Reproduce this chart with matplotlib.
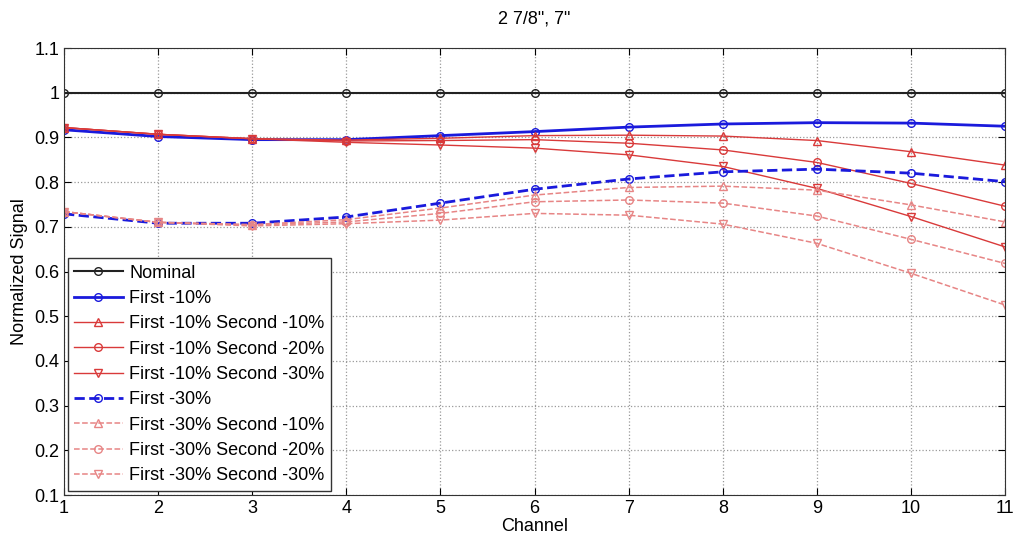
#!/usr/bin/env python3
# -*- coding: utf-8 -*-

import numpy as np
import matplotlib
matplotlib.use("Agg")
import matplotlib.pyplot as plt

plt.rcParams['font.family'] = ['Liberation Sans', 'DejaVu Sans']
plt.rcParams['font.size'] = 13

# チャンネル番号
channel = np.arange(1, 12)

# 正規化信号
nominal  = [1.0, 1.0, 1.0, 1.0, 1.0, 1.0, 1.0, 1.0, 1.0, 1.0, 1.0]
f10      = [0.917, 0.902, 0.895, 0.895, 0.904, 0.913, 0.923, 0.930, 0.933, 0.932, 0.925]
f10_s10  = [0.922, 0.907, 0.897, 0.894, 0.898, 0.904, 0.905, 0.903, 0.893, 0.868, 0.838]
f10_s20  = [0.922, 0.907, 0.897, 0.892, 0.893, 0.895, 0.887, 0.872, 0.844, 0.797, 0.746]
f10_s30  = [0.922, 0.907, 0.897, 0.889, 0.883, 0.876, 0.861, 0.835, 0.786, 0.723, 0.655]
f30      = [0.729, 0.708, 0.708, 0.722, 0.753, 0.784, 0.807, 0.823, 0.829, 0.820, 0.801]
f30_s10  = [0.734, 0.710, 0.705, 0.716, 0.742, 0.771, 0.788, 0.791, 0.782, 0.749, 0.711]
f30_s20  = [0.734, 0.710, 0.704, 0.711, 0.730, 0.756, 0.760, 0.753, 0.724, 0.672, 0.618]
f30_s30  = [0.734, 0.710, 0.702, 0.707, 0.715, 0.730, 0.726, 0.706, 0.663, 0.596, 0.525]

labels = [
    "Nominal",
    "First -10%",
    "First -10% Second -10%",
    "First -10% Second -20%",
    "First -10% Second -30%",
    "First -30%",
    "First -30% Second -10%",
    "First -30% Second -20%",
    "First -30% Second -30%",
]

red_solid  = "#d93a3a"
red_dashed = "#e78585"

# (データ, 色, 線種, 線幅, マーカー)
series = [
    (nominal, "#222222", "-",  1.5, "o"),
    (f10,     "#1a1adc", "-",  2.0, "o"),
    (f10_s10, red_solid, "-",  1.0, "^"),
    (f10_s20, red_solid, "-",  1.0, "o"),
    (f10_s30, red_solid, "-",  1.0, "v"),
    (f30,     "#1a1adc", "--", 2.0, "o"),
    (f30_s10, red_dashed, "--", 1.1, "^"),
    (f30_s20, red_dashed, "--", 1.1, "o"),
    (f30_s30, red_dashed, "--", 1.1, "v"),
]

fig = plt.figure(figsize=(10.18, 5.48), dpi=100)
ax = fig.add_axes([0.0629, 0.0967, 0.9244, 0.8157])

for (vals, col, ls, lw, mk), lab in zip(series, labels):
    ax.plot(channel, vals, color=col, linestyle=ls, linewidth=lw, marker=mk,
            markersize=5.5, markerfacecolor="none", markeredgecolor=col,
            markeredgewidth=1.0, label=lab)

ax.set_xlim(1, 11)
ax.set_ylim(0.1, 1.1)
ax.set_xticks(channel)
ax.set_yticks(np.round(np.arange(0.1, 1.11, 0.1), 1))
ax.set_yticklabels(["0.1", "0.2", "0.3", "0.4", "0.5", "0.6", "0.7", "0.8", "0.9", "1", "1.1"])
ax.tick_params(direction="in", top=True, right=True, length=5, labelsize=13)
ax.grid(True, linestyle=":", color="#999999", linewidth=0.9)
for sp in ax.spines.values():
    sp.set_color("#333333")

ax.set_xlabel("Channel", fontsize=13, labelpad=1)
ax.set_ylabel("Normalized Signal", fontsize=13, labelpad=4)
ax.set_title('2 7/8", 7"', fontsize=13, pad=18)

leg = ax.legend(loc="lower left", bbox_to_anchor=(0.004, 0.01), fontsize=13,
                frameon=True, fancybox=False, framealpha=1.0, edgecolor="#333333",
                handlelength=2.7, handletextpad=0.35, labelspacing=0.46,
                borderpad=0.35, borderaxespad=0.0)
leg.get_frame().set_linewidth(1.0)

fig.savefig("out.png", dpi=100)
